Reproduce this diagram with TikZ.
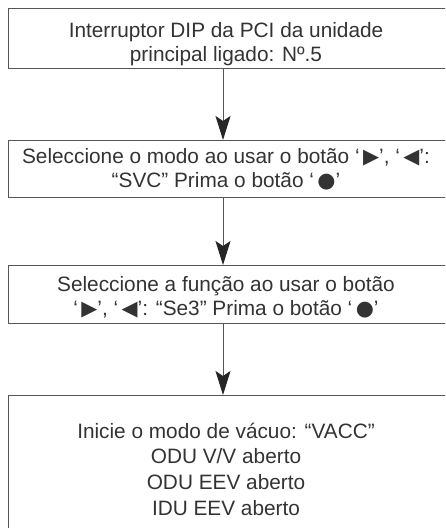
\documentclass[tikz,border=0pt]{standalone}
\usepackage{fontspec}
\setmainfont{Liberation Sans}
\newfontfamily\symfont{DejaVu Sans}
\usetikzlibrary{arrows.meta}
\definecolor{txt}{HTML}{333333}
\definecolor{edge}{HTML}{555555}
\newcommand{\sy}[1]{\,{\symfont\scalebox{1.0}{#1}}}
\tikzset{
  box/.style={draw=edge, line width=1.3pt, anchor=north west, inner sep=0pt},
  lbl/.style={text=txt, font=\fontsize{20.8}{24}\selectfont, align=center, inner sep=0pt},
  flow/.style={draw=edge, line width=1pt, -{Stealth[length=24pt,width=15pt,inset=5pt,color=black!85]}},
}
\begin{document}
\begin{tikzpicture}[x=1pt,y=1pt]
\useasboundingbox (0,0) rectangle (445,-528);
\clip (0,0) rectangle (445,-528);
\node[box, minimum width=460pt, minimum height=60pt] (b1) at (8,-8) {};
\node[box, minimum width=460pt, minimum height=57pt] (b2) at (8,-140) {};
\node[box, minimum width=460pt, minimum height=58pt] (b3) at (8,-265) {};
\node[box, minimum width=460pt, minimum height=160pt] (b4) at (8,-395) {};
\node[lbl] (t1) at (226,-44) {Interruptor DIP da PCI da unidade\\principal ligado: Nº.5};
\node[lbl] (t2) at (226,-169) {Seleccione o modo ao usar o botão ‘\sy{▶}’, ‘\sy{◀}’:\\“SVC” Prima o botão ‘\sy{●}’};
\node[lbl] (t3) at (226,-297) {Seleccione a função ao usar o botão\\‘\sy{▶}’, ‘\sy{◀}’: “Se3” Prima o botão ‘\sy{●}’};
\node[lbl, font=\fontsize{20.8}{25.7}\selectfont] (t4) at (226,-469) {Inicie o modo de vácuo: “VACC”\\ODU V/V aberto\\ODU EEV aberto\\IDU EEV aberto};
\coordinate (a1) at (223,-68);
\coordinate (a2) at (223,-197);
\coordinate (a3) at (223,-323);
\draw[flow] (a1) -- (a1 |- b2.north);
\draw[flow] (a2) -- (a2 |- b3.north);
\draw[flow] (a3) -- (a3 |- b4.north);
\end{tikzpicture}
\end{document}
